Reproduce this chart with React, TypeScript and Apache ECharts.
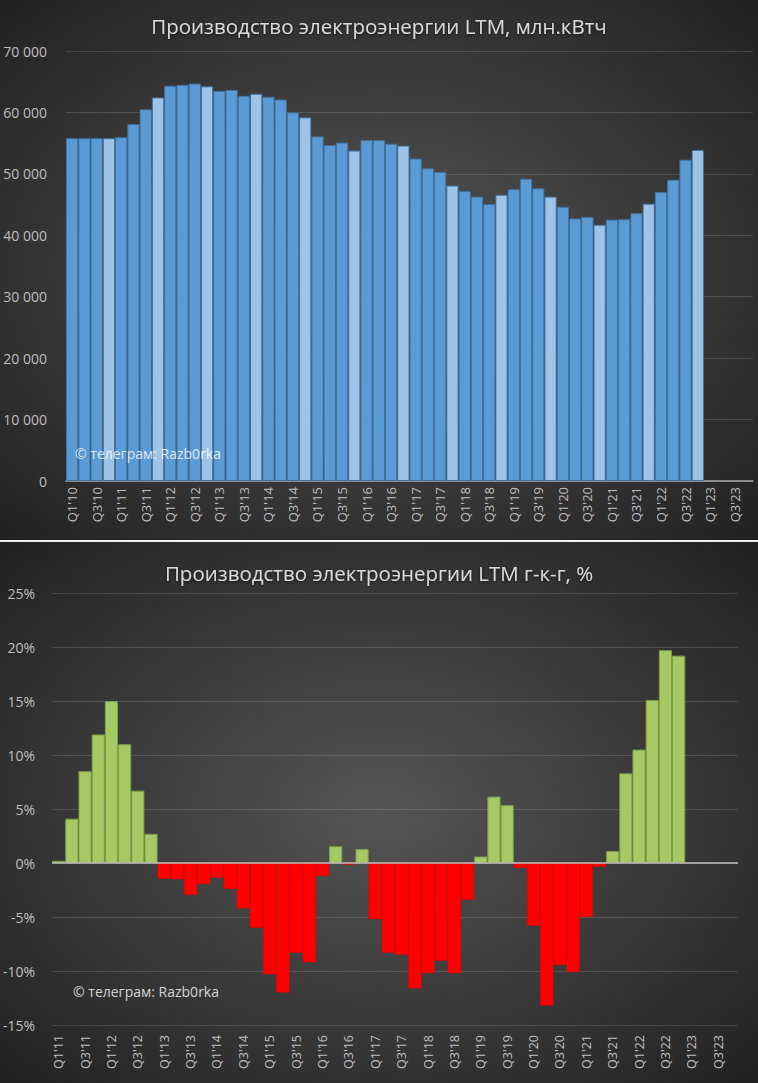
import React, { useEffect, useRef } from 'react';
import * as echarts from 'echarts';

const topCategories = [
  "Q1'10", "Q2'10", "Q3'10", "Q4'10", "Q1'11", "Q2'11", "Q3'11", "Q4'11",
  "Q1'12", "Q2'12", "Q3'12", "Q4'12", "Q1'13", "Q2'13", "Q3'13", "Q4'13",
  "Q1'14", "Q2'14", "Q3'14", "Q4'14", "Q1'15", "Q2'15", "Q3'15", "Q4'15",
  "Q1'16", "Q2'16", "Q3'16", "Q4'16", "Q1'17", "Q2'17", "Q3'17", "Q4'17",
  "Q1'18", "Q2'18", "Q3'18", "Q4'18", "Q1'19", "Q2'19", "Q3'19", "Q4'19",
  "Q1'20", "Q2'20", "Q3'20", "Q4'20", "Q1'21", "Q2'21", "Q3'21", "Q4'21",
  "Q1'22", "Q2'22", "Q3'22", "Q4'22", "Q1'23", "Q2'23", "Q3'23", "Q4'23",
];

const productionLTM = [
  55800, 55800, 55800, 55800, 55950, 58100, 60500, 62450,
  64350, 64500, 64700, 64250, 63500, 63650, 62700, 63050,
  62550, 62100, 60000, 59200, 56100, 54700, 55100, 53800,
  55500, 55500, 54900, 54600, 52500, 50900, 50300, 48100,
  47200, 46300, 45100, 46600, 47500, 49200, 47650, 46300,
  44650, 42750, 43000, 41700, 42550, 42600, 43600, 45150,
  47050, 49050, 52300, 53900,
];

const bottomCategories = [
  "Q1'11", "Q2'11", "Q3'11", "Q4'11",
  "Q1'12", "Q2'12", "Q3'12", "Q4'12", "Q1'13", "Q2'13", "Q3'13", "Q4'13",
  "Q1'14", "Q2'14", "Q3'14", "Q4'14", "Q1'15", "Q2'15", "Q3'15", "Q4'15",
  "Q1'16", "Q2'16", "Q3'16", "Q4'16", "Q1'17", "Q2'17", "Q3'17", "Q4'17",
  "Q1'18", "Q2'18", "Q3'18", "Q4'18", "Q1'19", "Q2'19", "Q3'19", "Q4'19",
  "Q1'20", "Q2'20", "Q3'20", "Q4'20", "Q1'21", "Q2'21", "Q3'21", "Q4'21",
  "Q1'22", "Q2'22", "Q3'22", "Q4'22", "Q1'23", "Q2'23", "Q3'23", "Q4'23",
];

const growthYoY = [
  0.2, 4.1, 8.5, 11.9, 15.0, 11.0, 6.7, 2.7,
  -1.45, -1.5, -2.95, -1.95, -1.35, -2.4, -4.2, -6.0,
  -10.3, -12.0, -8.3, -9.2, -1.2, 1.55, -0.15, 1.3,
  -5.2, -8.3, -8.5, -11.6, -10.2, -9.05, -10.2, -3.4,
  0.6, 6.15, 5.35, -0.45, -5.8, -13.2, -9.45, -10.1,
  -5.0, -0.35, 1.1, 8.3, 10.5, 15.1, 19.7, 19.2,
];

const topTitle = 'Производство электроэнергии LTM, млн.кВтч';
const bottomTitle = 'Производство электроэнергии LTM г-к-г, %';
const watermark = '© телеграм: Razb0rka';

const FONT = '"Open Sans", "Noto Sans", sans-serif';
const LABEL = '#bfbfbf';
const GRID = 'rgba(255,255,255,0.13)';

const bg = {
  type: 'radial',
  x: 0.5,
  y: 0.5,
  r: 0.75,
  colorStops: [
    { offset: 0, color: '#555555' },
    { offset: 1, color: '#1e1e1e' },
  ],
};

function fmtThousands(v: number) {
  return String(v).replace(/\B(?=(\d{3})+(?!\d))/g, ' ');
}

function Chart({ option, height }: { option: any; height: number }) {
  const ref = useRef<HTMLDivElement>(null);
  useEffect(() => {
    if (!ref.current) return;
    const chart = echarts.init(ref.current, undefined, { renderer: 'svg' });
    chart.setOption(option);
    return () => chart.dispose();
  }, []);
  return <div ref={ref} style={{ width: 758, height }} />;
}

const titleStyle = {
  color: '#d9d9d9',
  fontSize: 20.5,
  fontWeight: 'normal',
  fontFamily: FONT,
  textShadowColor: 'rgba(0,0,0,0.6)',
  textShadowBlur: 3,
  textShadowOffsetY: 1,
};

const topOption = {
  animation: false,
  backgroundColor: bg,
  textStyle: { fontFamily: FONT },
  title: {
    text: topTitle,
    left: 'center',
    top: 10,
    textStyle: titleStyle,
  },
  grid: { left: 66, right: 5, top: 51, bottom: 59 },
  xAxis: {
    type: 'category',
    data: topCategories,
    axisLine: { lineStyle: { color: '#a6a6a6', width: 1.5 } },
    axisTick: { show: false },
    axisLabel: {
      rotate: 90,
      interval: 1,
      color: LABEL,
      fontSize: 13,
      margin: 6,
      fontFamily: FONT,
    },
  },
  yAxis: {
    type: 'value',
    min: 0,
    max: 70000,
    interval: 10000,
    axisLine: { show: false },
    axisTick: { show: false },
    splitLine: { lineStyle: { color: GRID, width: 1 } },
    axisLabel: {
      color: LABEL,
      fontSize: 14,
      margin: 19,
      fontFamily: FONT,
      formatter: (v: number) => fmtThousands(v),
    },
  },
  series: [
    {
      type: 'bar',
      barCategoryGap: '0%',
      data: productionLTM.map((v, i) => ({
        value: v,
        itemStyle: {
          color: topCategories[i].startsWith('Q4') ? '#9dc3e6' : '#5b9bd5',
        },
      })),
      itemStyle: { borderColor: '#41719c', borderWidth: 1 },
    },
  ],
  graphic: [
    {
      type: 'text',
      left: 75,
      top: 446,
      z: 100,
      style: {
        text: watermark,
        fill: 'rgba(255,255,255,0.8)',
        fontSize: 14,
        fontFamily: FONT,
      },
    },
  ],
};

const bottomOption = {
  animation: false,
  backgroundColor: bg,
  textStyle: { fontFamily: FONT },
  title: {
    text: bottomTitle,
    left: 'center',
    top: 15,
    textStyle: titleStyle,
  },
  grid: { left: 50, right: 20, top: 51, bottom: 58 },
  xAxis: {
    type: 'category',
    data: bottomCategories,
    axisLine: { show: false, onZero: false },
    axisTick: { show: false },
    axisLabel: {
      rotate: 90,
      interval: 1,
      color: LABEL,
      fontSize: 12.5,
      margin: 10,
      fontFamily: FONT,
    },
  },
  yAxis: {
    type: 'value',
    min: -15,
    max: 25,
    interval: 5,
    axisLine: { show: false },
    axisTick: { show: false },
    splitLine: { lineStyle: { color: GRID, width: 1 } },
    axisLabel: {
      color: LABEL,
      fontSize: 14,
      margin: 17,
      fontFamily: FONT,
      formatter: (v: number) => v + '%',
    },
  },
  series: [
    {
      type: 'bar',
      barCategoryGap: '0%',
      data: growthYoY.map((v) => ({
        value: v,
        itemStyle:
          v >= 0
            ? { color: '#a6c964', borderColor: '#7f9f4a', borderWidth: 1 }
            : { color: '#ff0000', borderColor: '#e00000', borderWidth: 0.5 },
      })),
      markLine: {
        silent: true,
        symbol: ['none', 'none'],
        label: { show: false },
        lineStyle: { color: '#bfbfbf', width: 1.5, type: 'solid' },
        data: [{ yAxis: 0 }],
      },
    },
  ],
  graphic: [
    {
      type: 'text',
      left: 73,
      top: 442,
      z: 100,
      style: {
        text: watermark,
        fill: 'rgba(255,255,255,0.8)',
        fontSize: 14,
        fontFamily: FONT,
      },
    },
  ],
};

export default function App() {
  return (
    <div style={{ position: 'absolute', left: 0, top: 0, width: 758, height: 1083, background: '#1e1e1e' }}>
      <Chart option={topOption} height={540} />
      <div style={{ width: 758, height: 2, background: '#f0f0f0' }} />
      <Chart option={bottomOption} height={541} />
    </div>
  );
}
